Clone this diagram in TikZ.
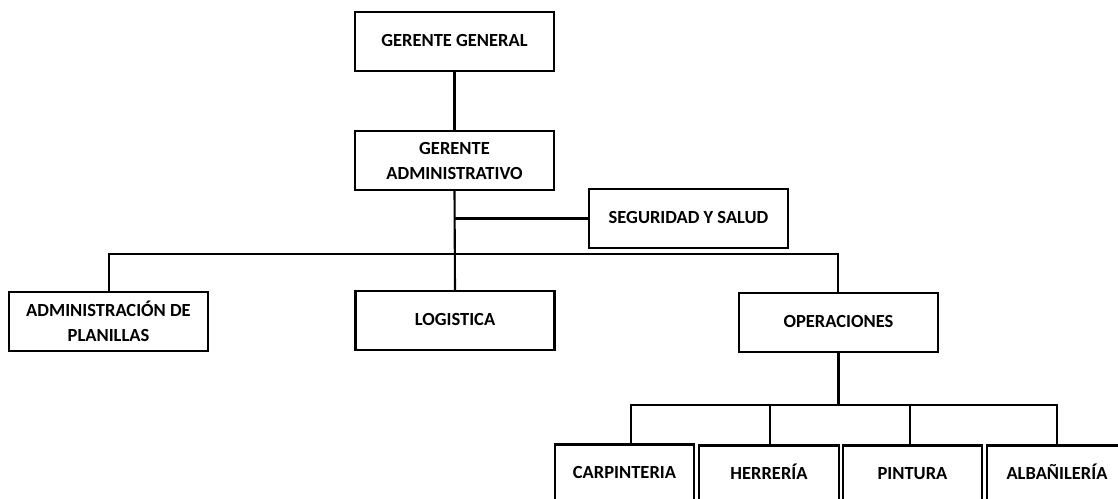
\documentclass[tikz,border=0pt]{standalone}
\usepackage{fontspec}
\setmainfont{Carlito}
\begin{document}
\begin{tikzpicture}[x=1pt,y=-1pt,
  orgbox/.style={draw, line width=2.1pt, inner sep=0pt, align=center,
    minimum width=199pt, minimum height=59pt,
    font=\fontsize{18.5}{25}\selectfont\bfseries},
  onebox/.style={orgbox, text height=12.5pt, text depth=3.5pt},
  smallbox/.style={onebox, minimum width=139pt},
  conn/.style={line width=2.1pt}]
\useasboundingbox (0,0) rectangle (1118,498);
\clip (0,0) rectangle (1118,498);
\fill[white] (0,0) rectangle (1118,498);
\node[onebox] (gg) at (454.5,41.5) {GERENTE GENERAL};
\node[orgbox] (ga) at (454.5,160.5) {GERENTE\\ADMINISTRATIVO};
\node[onebox] (seg) at (688.5,218.5) {SEGURIDAD Y SALUD};
\node[orgbox] (adm) at (108.5,321.5) {ADMINISTRACIÓN DE\\PLANILLAS};
\node[onebox] (log) at (455,320.5) {LOGISTICA};
\node[onebox] (ope) at (838.5,322.5) {OPERACIONES};
\node[smallbox] (car) at (624.5,474) {CARPINTERIA};
\node[smallbox, minimum width=140pt] (her) at (769,475) {HERRERÍA};
\node[smallbox] (pin) at (912.5,475) {PINTURA};
\node[smallbox, minimum width=140pt] (alb) at (1057,475) {ALBAÑILERÍA};
\coordinate (bar) at (455,254);
\coordinate (bar2) at (838,405);
% connectors
\draw[conn] (gg.south) -- (ga.north);
\draw[conn] (ga.south) -- (log.north);
\draw[conn] (seg.west) -- (seg.west -| ga.south);
\draw[conn] ([xshift=0.5pt]adm.north) |- (bar) -| ([xshift=-0.5pt]ope.north);
\draw[conn] (ope.south) -- (ope.south |- bar2);
\draw[conn] ([xshift=6.5pt]car.north) |- (bar2) -| (alb.north);
\draw[conn] ([xshift=1pt]her.north) -- ([xshift=1pt]her.north |- bar2);
\draw[conn] ([xshift=-2.5pt]pin.north) -- ([xshift=-2.5pt]pin.north |- bar2);
\end{tikzpicture}
\end{document}
